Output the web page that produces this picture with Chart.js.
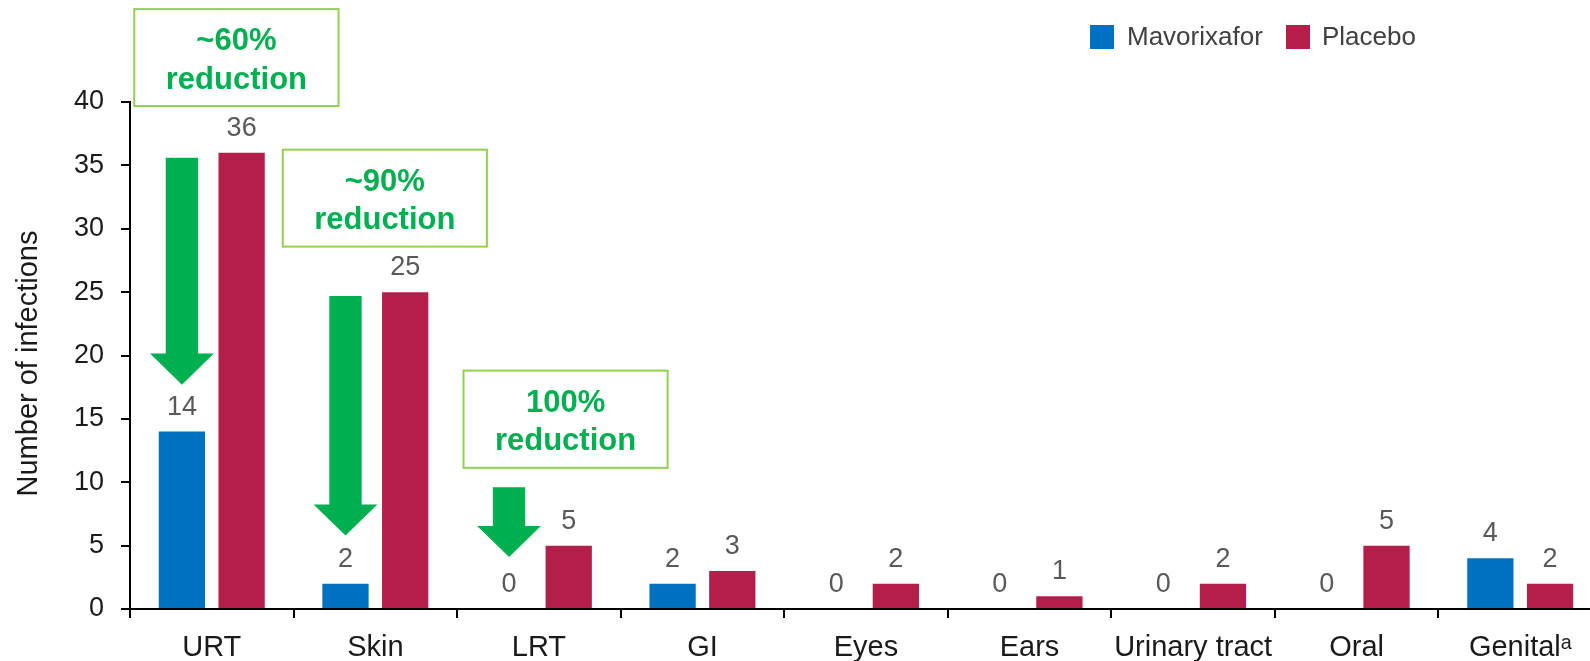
<!DOCTYPE html>
<html>
<head>
<meta charset="utf-8">
<script src="https://cdn.jsdelivr.net/npm/chart.js@4/dist/chart.umd.min.js"></script>
<style>
  html, body { margin: 0; padding: 0; background: #fff; overflow: hidden; width: 1590px; height: 661px; }
  canvas { display: block; }
</style>
</head>
<body>
<canvas id="chart" width="1602" height="661" style="width:1602px;height:661px"></canvas>
<script>
// Infections by site
const categories = ['URT', 'Skin', 'LRT', 'GI', 'Eyes', 'Ears', 'Urinary tract', 'Oral', 'Genital\u1D43'];
const mavorixafor = [14, 2, 0, 2, 0, 0, 0, 0, 4];
const placebo = [36, 25, 5, 3, 2, 1, 2, 5, 2];
const seriesNames = ['Mavorixafor', 'Placebo'];
const yTickValues = [0, 5, 10, 15, 20, 25, 30, 35, 40];
const yAxisTitle = 'Number of infections';
const reductionText = [['~60%', 'reduction'], ['~90%', 'reduction'], ['100%', 'reduction']];

const FONT = '"Liberation Sans", Arial, Helvetica, sans-serif';
const BLUE = '#0070C0';
const RED = '#B41E4A';
const GREEN = '#00B050';
const BOX_GREEN = '#92D050';

// Callout layout: box extents in category/value units, arrow from top value down to tip value,
// placed over the Mavorixafor bar of the given category.
const calloutLayout = [
  { cat: 0, x0: -0.474, x1: 0.775, yTop: 47.33, yBottom: 39.68, arrowTop: 35.6, arrowTip: 17.7 },
  { cat: 1, x0: 0.434, x1: 1.682, yTop: 36.24, yBottom: 28.59, arrowTop: 24.7, arrowTip: 5.8 },
  { cat: 2, x0: 1.539, x1: 2.787, yTop: 18.81, yBottom: 11.14, arrowTop: 9.6, arrowTip: 4.1 }
];

const valueLabels = {
  id: 'valueLabels',
  afterDatasetsDraw(chart) {
    const ctx = chart.ctx;
    ctx.save();
    ctx.font = '27px ' + FONT;
    ctx.fillStyle = '#595959';
    ctx.textAlign = 'center';
    ctx.textBaseline = 'alphabetic';
    chart.data.datasets.forEach((ds, di) => {
      chart.getDatasetMeta(di).data.forEach((bar, i) => {
        ctx.fillText(String(ds.data[i]), bar.x, bar.y - 17);
      });
    });
    ctx.restore();
  }
};

const callouts = {
  id: 'callouts',
  afterDraw(chart) {
    const ctx = chart.ctx;
    const xs = chart.scales.x, ys = chart.scales.y;
    const meta = chart.getDatasetMeta(0);
    ctx.save();
    calloutLayout.forEach((c, k) => {
      // box
      const left = xs.getPixelForValue(c.x0), right = xs.getPixelForValue(c.x1);
      const top = ys.getPixelForValue(c.yTop), bottom = ys.getPixelForValue(c.yBottom);
      ctx.strokeStyle = BOX_GREEN;
      ctx.lineWidth = 2;
      ctx.strokeRect(left, top, right - left, bottom - top);
      const cx = (left + right) / 2, cy = (top + bottom) / 2;
      ctx.fillStyle = GREEN;
      ctx.font = 'bold 31px ' + FONT;
      ctx.textAlign = 'center';
      ctx.textBaseline = 'alphabetic';
      ctx.fillText(reductionText[k][0], cx, cy - 7.5);
      ctx.fillText(reductionText[k][1], cx, cy + 31);
      // arrow
      const bar = meta.data[c.cat];
      const ax = bar.x, w = bar.width;
      const shaft = w * 0.35, head = w * 0.69;
      const yTop = ys.getPixelForValue(c.arrowTop);
      const yTip = ys.getPixelForValue(c.arrowTip);
      const yNeck = ys.getPixelForValue(c.arrowTip + 2.45);
      ctx.beginPath();
      ctx.moveTo(ax - shaft, yTop);
      ctx.lineTo(ax + shaft, yTop);
      ctx.lineTo(ax + shaft, yNeck);
      ctx.lineTo(ax + head, yNeck);
      ctx.lineTo(ax, yTip);
      ctx.lineTo(ax - head, yNeck);
      ctx.lineTo(ax - shaft, yNeck);
      ctx.closePath();
      ctx.fillStyle = GREEN;
      ctx.fill();
    });
    ctx.restore();
  }
};

// Rotated y-axis title, set slightly below the axis midpoint
const axisTitle = {
  id: 'axisTitle',
  afterDraw(chart) {
    const ctx = chart.ctx;
    ctx.save();
    ctx.translate(36.5, 363.5);
    ctx.rotate(-Math.PI / 2);
    ctx.font = '29px ' + FONT;
    ctx.fillStyle = '#1a1a1a';
    ctx.textAlign = 'center';
    ctx.textBaseline = 'alphabetic';
    ctx.fillText(yAxisTitle, 0, 0);
    ctx.restore();
  }
};

const legendBlock = {
  id: 'legendBlock',
  afterDraw(chart) {
    const ctx = chart.ctx;
    const items = [{ box: 1090, text: 1127 }, { box: 1286, text: 1322 }];
    ctx.save();
    ctx.font = '26px ' + FONT;
    ctx.textAlign = 'left';
    ctx.textBaseline = 'alphabetic';
    chart.data.datasets.forEach((ds, i) => {
      ctx.fillStyle = ds.backgroundColor;
      ctx.fillRect(items[i].box, 25, 24, 24);
      ctx.fillStyle = '#404040';
      ctx.fillText(ds.label, items[i].text, 45);
    });
    ctx.restore();
  }
};

new Chart(document.getElementById('chart'), {
  type: 'bar',
  data: {
    labels: categories,
    datasets: [
      { label: seriesNames[0], data: mavorixafor, backgroundColor: BLUE, borderWidth: 0,
        categoryPercentage: 0.73, barPercentage: 0.775 },
      { label: seriesNames[1], data: placebo, backgroundColor: RED, borderWidth: 0,
        categoryPercentage: 0.73, barPercentage: 0.775 }
    ]
  },
  options: {
    responsive: false,
    animation: false,
    devicePixelRatio: 1,
    layout: { padding: { top: 102, left: 12, right: 0, bottom: 0 } },
    plugins: { legend: { display: false }, tooltip: { enabled: false } },
    scales: {
      x: {
        afterFit(scale) { scale.height = 52; },
        grid: { offset: true, drawOnChartArea: false, drawTicks: true, tickLength: 9, color: '#000', lineWidth: 2 },
        border: { display: true, color: '#000', width: 2 },
        ticks: { font: { family: FONT, size: 29 }, color: '#1a1a1a', padding: 13, maxRotation: 0, autoSkip: false }
      },
      y: {
        min: 0, max: 40,
        afterFit(scale) { scale.width = 118; },
        afterBuildTicks(scale) { scale.ticks = yTickValues.map(v => ({ value: v })); },
        grid: { drawOnChartArea: false, drawTicks: true, tickLength: 9, color: '#000', lineWidth: 2 },
        border: { display: true, color: '#000', width: 2 },
        ticks: { font: { family: FONT, size: 27 }, color: '#1a1a1a', padding: 17 },
        title: { display: false }
      }
    }
  },
  plugins: [valueLabels, callouts, axisTitle, legendBlock]
});
</script>
</body>
</html>
